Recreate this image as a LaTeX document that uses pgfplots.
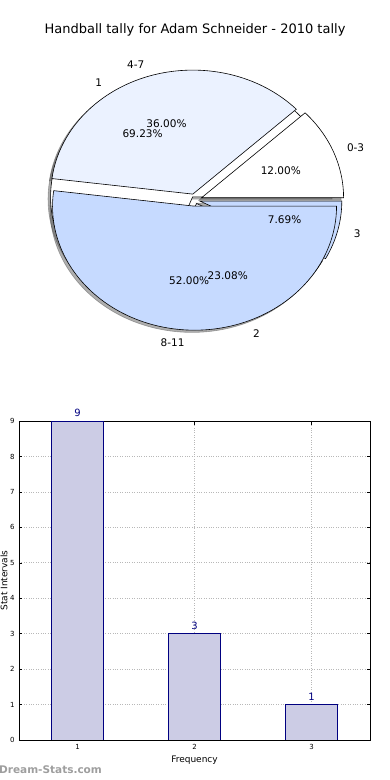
\documentclass[border=0pt]{standalone}
\usepackage{pgfplots}
\pgfplotsset{compat=1.18}
\usepackage{fontspec}
\setmainfont{DejaVu Sans}
\definecolor{pieW}{HTML}{FFFFFF}
\definecolor{pieL}{HTML}{EBF2FF}
\definecolor{pieD}{HTML}{C6DAFF}
\definecolor{barfill}{HTML}{CCCCE5}
\definecolor{navyc}{HTML}{000080}
\newcommand\pielabelfont{\fontsize{10.5}{12}\selectfont}
% #1 cumulative before, #2 value, #3 total, #4 colour, #5 mode (0 shadow, 1 wedge), #6 explode
\newcommand\slice[6]{%
  \pgfmathsetmacro\sA{360/#3*#1}%
  \pgfmathsetmacro\sB{360/#3*(#1+#2)}%
  \pgfmathsetmacro\sM{(\sA+\sB)/2}%
  \ifnum#5=0
    \pgfmathsetmacro\ex{#6*cos(\sM)-0.018}\pgfmathsetmacro\ey{#6*sin(\sM)-0.018}%
    \def\sty{fill=black!70,draw=black!70,opacity=0.45}%
  \else
    \pgfmathsetmacro\ex{#6*cos(\sM)}\pgfmathsetmacro\ey{#6*sin(\sM)}%
    \def\sty{fill=#4,draw=black}%
  \fi
  \pgfmathsetmacro\sx{\ex+cos(\sA)}\pgfmathsetmacro\sy{\ey+sin(\sA)}%
  \edef\cmd{\noexpand\filldraw[\sty,line width=0.6pt] (axis cs:\ex,\ey) -- (axis cs:\sx,\sy) arc[start angle=\sA,end angle=\sB,x radius=142pt,y radius=124pt] -- cycle;}%
  \cmd
}
% #1 cumulative before, #2 value, #3 total, #4 label
\newcommand\slicelabel[4]{%
  \pgfmathsetmacro\sM{360/#3*(#1+#2/2)}%
  \pgfmathsetmacro\lx{1.15*cos(\sM)}\pgfmathsetmacro\ly{1.15*sin(\sM)}%
  \pgfmathsetmacro\px{0.65*cos(\sM)}\pgfmathsetmacro\py{0.65*sin(\sM)}%
  \pgfmathsetmacro\pc{100/#3*#2}%
  \ifdim\lx pt>0pt \def\anc{west}\else\def\anc{east}\fi
  \edef\cmd{\noexpand\node[anchor=\anc,inner sep=0pt,font=\noexpand\pielabelfont] at (axis cs:\lx,\ly) {#4};
    \noexpand\node[anchor=center,inner sep=0pt,font=\noexpand\pielabelfont] at (axis cs:\px,\py) {\noexpand\pgfmathprintnumber[fixed,fixed zerofill,precision=2,assume math mode=true]{\pc}\noexpand\%};}%
  \cmd
}
\begin{document}
\begin{tikzpicture}[x=1pt,y=1pt]
\useasboundingbox (0,0) rectangle (390,780);
\node[font=\fontsize{13}{15}\selectfont] at (195,750) {Handball tally for Adam Schneider - 2010 tally};
\begin{axis}[at={(195pt,580pt)}, anchor=origin, x=142pt, y=124pt, hide axis, clip=false,
  xmin=-1.3, xmax=1.3, ymin=-1.3, ymax=1.3]
  % shadows
  \slice{0}{9}{13}{pieW}{0}{0.03}
  \slice{9}{3}{13}{pieL}{0}{0.03}
  \slice{12}{1}{13}{pieD}{0}{0.03}
  \slice{0}{12}{100}{pieW}{0}{0.05}
  \slice{12}{36}{100}{pieL}{0}{0.05}
  \slice{48}{52}{100}{pieD}{0}{0.05}
  % pie of frequencies 1,2,3
  \slice{0}{9}{13}{pieW}{1}{0.03}
  \slice{9}{3}{13}{pieL}{1}{0.03}
  \slice{12}{1}{13}{pieD}{1}{0.035}
  % pie of intervals
  \slice{0}{12}{100}{pieW}{1}{0.05}
  \slice{12}{36}{100}{pieL}{1}{0.05}
  \slice{48}{52}{100}{pieD}{1}{0.05}
  \slicelabel{0}{12}{100}{0-3}
  \slicelabel{12}{36}{100}{4-7}
  \slicelabel{48}{52}{100}{8-11}
  \slicelabel{0}{9}{13}{1}
  \slicelabel{9}{3}{13}{2}
  \slicelabel{12}{1}{13}{3}
\end{axis}
\begin{axis}[at={(19pt,40pt)}, anchor=south west, width=351pt, height=319pt, scale only axis,
  ybar, bar width=0.44,
  xmin=0.5, xmax=3.5, ymin=0, ymax=9,
  xtick={1,2,3}, ytick={0,1,2,3,4,5,6,7,8,9},
  grid=major, grid style={dotted, black!28, line width=0.7pt},
  tick align=inside, tick pos=both, major tick length=3.5pt,
  tick style={black, line width=0.5pt},
  axis line style={line width=0.8pt},
  tick label style={font=\fontsize{7}{8}\selectfont},
  /pgf/number format/assume math mode=true,
  xticklabel style={yshift=-1pt},
  yticklabel style={xshift=-1pt},
  xlabel={Frequency}, ylabel={Stat Intervals},
  label style={font=\fontsize{9}{10}\selectfont},
  xlabel style={at={(axis description cs:0.5,-0.064)}, anchor=center},
  ylabel style={at={(axis description cs:-0.043,0.5)}, anchor=center},
  nodes near coords,
  nodes near coords style={text=navyc, font=\fontsize{10}{11}\selectfont, anchor=south, yshift=0.5pt},
  ]
  \addplot[fill=barfill, draw=navyc, line width=0.7pt] coordinates {(1,9) (2,3) (3,1)};
\end{axis}
\node[anchor=west, text=black!38, font=\bfseries\fontsize{10.5}{12}\selectfont, inner sep=0pt] at (-1,10) {Dream-Stats.com};
\end{tikzpicture}
\end{document}
